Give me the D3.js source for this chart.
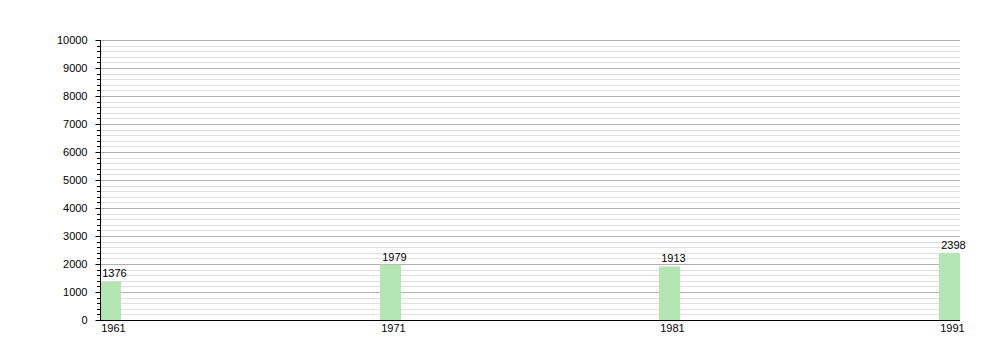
<!DOCTYPE html>
<html>
<head>
<meta charset="utf-8">
<script src="https://cdn.jsdelivr.net/npm/d3@7"></script>
<style>
  body { margin: 0; background: #fff; }
  text { font-family: "Liberation Sans", Arial, sans-serif; font-size: 11px; fill: #000; }
</style>
</head>
<body>
<svg width="1000" height="360"></svg>
<script>
var years = [1961, 1971, 1981, 1991]
var population = [1376, 1979, 1913, 2398]
var yTicks = [0, 1000, 2000, 3000, 4000, 5000, 6000, 7000, 8000, 9000, 10000]

var margins = {"left": 100, "right": 40, "top": 40, "bottom": 40}
var width = 1000 - margins.left - margins.right
var height = 360 - margins.top - margins.bottom
var barwidth = 21

var svg = d3.select("svg")
var g = svg.append("g")
  .attr("transform", "translate(" + margins.left + "," + margins.top + ")")

var xScale = d3.scaleLinear()
  .domain([1961, 1991])
  .range([0, width - barwidth])

var ys = d3.scaleLinear()
  .domain([0, 10000])
  .range([height, 0])

// minor grid every 200
var minor = d3.range(200, 10001, 200).filter(function(v){ return v % 1000 !== 0 })
g.selectAll(".minor")
  .data(minor)
  .enter()
  .append("line")
  .attr("x1", 0).attr("x2", width)
  .attr("y1", function(d){ return Math.round(ys(d)) + 0.5 })
  .attr("y2", function(d){ return Math.round(ys(d)) + 0.5 })
  .attr("stroke", "#e0e0e0")

g.selectAll(".major")
  .data(yTicks.slice(1))
  .enter()
  .append("line")
  .attr("x1", 0).attr("x2", width)
  .attr("y1", function(d){ return Math.round(ys(d)) + 0.5 })
  .attr("y2", function(d){ return Math.round(ys(d)) + 0.5 })
  .attr("stroke", "#b0b0b0")

// bars
g.selectAll("rect")
  .data(population)
  .enter()
  .append("rect")
  .attr("x", function(d, i){ return Math.round(xScale(years[i])) })
  .attr("y", function(d){ return ys(d) })
  .attr("width", barwidth)
  .attr("height", function(d){ return height - ys(d) })
  .attr("fill", "#b3e6b3")

g.selectAll(".val")
  .data(population)
  .enter()
  .append("text")
  .attr("x", function(d, i){ return Math.round(xScale(years[i])) + barwidth / 2 + 4 })
  .attr("y", function(d){ return ys(d) - 4 })
  .attr("text-anchor", "middle")
  .text(function(d){ return d })

g.selectAll(".yr")
  .data(years)
  .enter()
  .append("text")
  .attr("x", function(d){ return Math.round(xScale(d)) + barwidth / 2 + 3 })
  .attr("y", height + 12)
  .attr("text-anchor", "middle")
  .text(function(d){ return d })

// minor ticks on left axis
g.selectAll(".mtick")
  .data(minor)
  .enter()
  .append("line")
  .attr("x1", -3).attr("x2", 0)
  .attr("y1", function(d){ return Math.round(ys(d)) + 0.5 })
  .attr("y2", function(d){ return Math.round(ys(d)) + 0.5 })
  .attr("stroke", "#000")

var yAxis = g.append("g")
  .attr("transform", "translate(0.5,0)")
  .style("color", "#000")
  .call(d3.axisLeft(ys).tickValues(yTicks).tickSize(5).tickPadding(8).tickFormat(d3.format("d")))
yAxis.select(".domain").attr("d", "M0," + height + "V0")
yAxis.selectAll("text").style("font-size", "11px").style("fill", "#000")

g.append("line")
  .attr("x1", 0).attr("x2", width)
  .attr("y1", height + 0.5).attr("y2", height + 0.5)
  .attr("stroke", "#000")
</script>
</body>
</html>
